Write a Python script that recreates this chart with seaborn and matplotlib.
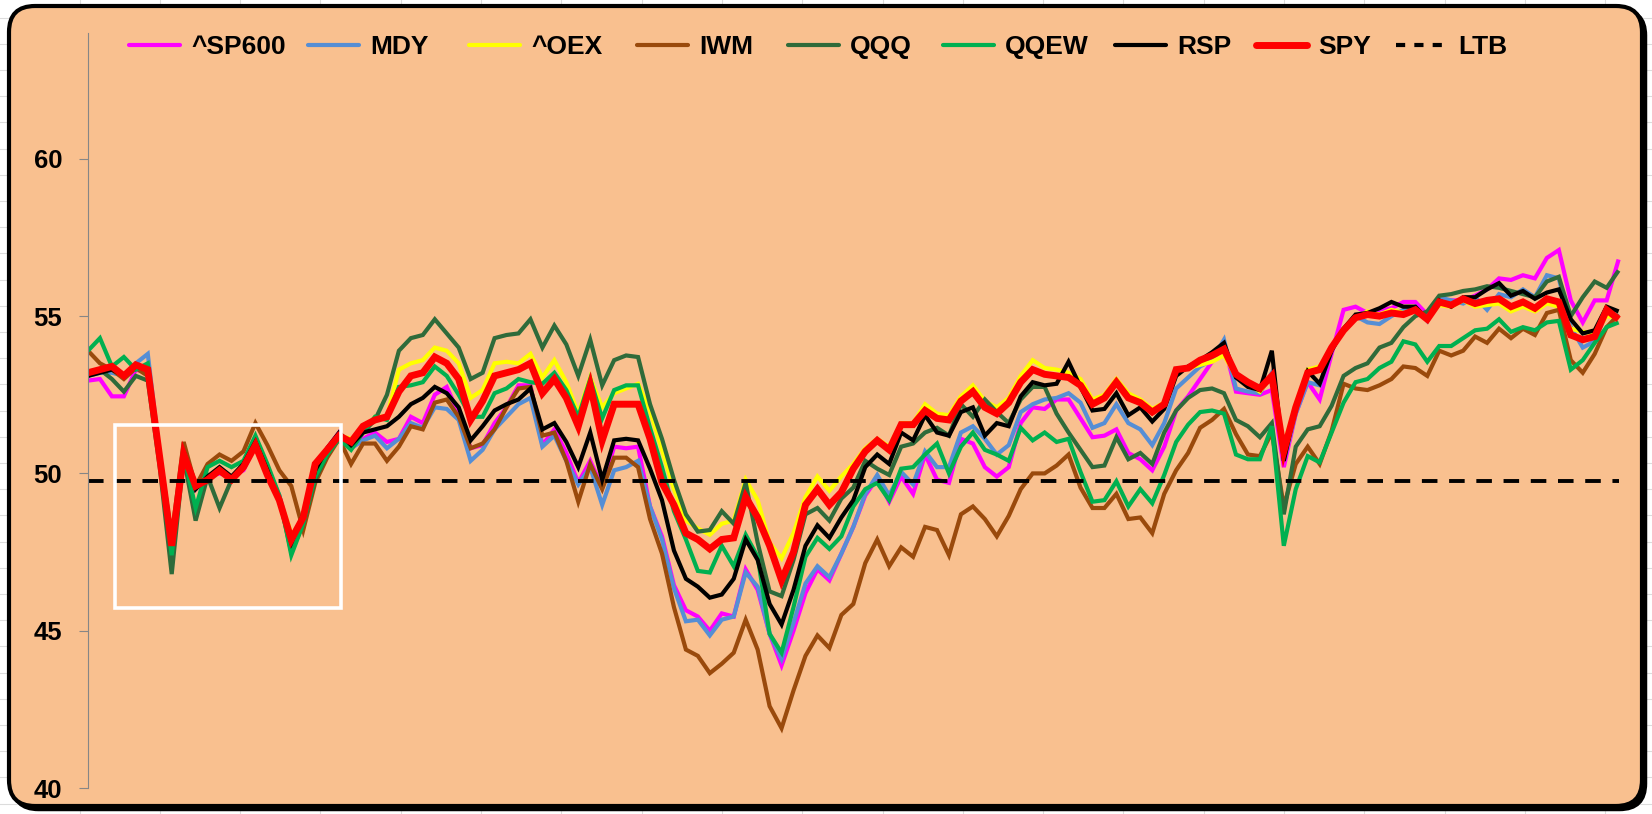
import numpy as np
import pandas as pd
import matplotlib
matplotlib.use("Agg")
import matplotlib.pyplot as plt
import seaborn as sns
from matplotlib.patches import FancyBboxPatch, Rectangle
from matplotlib.lines import Line2D
from matplotlib.font_manager import FontProperties

# ---------------- data ----------------
spy = [53.2, 53.3, 53.4, 53.1, 53.45, 53.3, 50.5, 47.7, 50.6, 49.6, 49.8, 50.1, 49.8, 50.2, 50.9, 49.95, 49.15, 47.9, 48.6, 50.3, 50.75, 51.2,
       51.0, 51.5, 51.7, 51.8, 52.6, 53.1, 53.2, 53.7, 53.5, 53.0, 51.7, 52.3, 53.1, 53.2, 53.3, 53.5, 52.55, 53.0, 52.4, 51.5, 52.8,
       51.05, 52.2, 52.2, 52.2, 51.1, 49.7, 49.0, 48.1, 47.9, 47.6, 47.9, 47.95, 49.25, 48.6, 47.7, 46.6, 47.5, 49.0, 49.5, 49.0, 49.4,
       50.15, 50.7, 51.05, 50.75, 51.55, 51.55, 52.0, 51.75, 51.7, 52.3, 52.6, 52.1, 51.9, 52.25, 52.9, 53.3, 53.15, 53.1, 53.05, 52.8, 52.2,
       52.4, 52.9, 52.4, 52.25, 51.95, 52.2, 53.3, 53.35, 53.6, 53.75, 53.95, 53.15, 52.9, 52.7, 53.1, 50.7, 52.1, 53.2, 53.3, 54.0, 54.55, 54.95,
       55.05, 55.0, 55.1, 55.05, 55.2, 54.9, 55.45, 55.35, 55.55, 55.4, 55.5, 55.55, 55.3, 55.45, 55.25, 55.55, 55.45, 54.4, 54.25, 54.35, 55.2, 54.9]

oex = [53.2, 53.3, 53.4, 53.1, 53.45, 53.3, 50.5, 47.8, 50.6, 49.6, 49.8, 50.1, 49.8, 50.2, 50.9, 50.0, 49.2, 48.1, 48.2, 50.0, 50.7, 51.2,
       51.1, 51.3, 51.8, 51.8, 53.3, 53.5, 53.6, 54.0, 53.9, 53.5, 52.4, 52.65, 53.5, 53.55, 53.5, 53.8, 53.05, 53.6, 52.9, 51.9, 53.05,
       52.1, 52.55, 52.7, 52.85, 52.0, 50.75, 49.5, 48.5, 48.25, 48.05, 48.4, 48.5, 49.8, 49.15, 47.8, 47.3, 48.1, 49.25, 49.9, 49.45, 49.9,
       50.3, 50.8, 51.1, 50.85, 51.6, 51.6, 52.2, 51.9, 51.85, 52.45, 52.8, 52.3, 52.1, 52.4, 53.1, 53.6, 53.35, 53.3, 53.2, 53.0, 52.35,
       52.5, 53.0, 52.55, 52.35, 52.05, 52.25, 53.3, 53.35, 53.45, 53.55, 53.75, 53.1, 52.85, 52.6, 53.1, 50.9, 52.2, 53.3, 53.4, 54.0, 54.5, 54.95,
       55.15, 55.05, 55.2, 55.1, 55.2, 54.95, 55.35, 55.3, 55.5, 55.3, 55.35, 55.4, 55.15, 55.3, 55.15, 55.4, 55.3, 54.6, 54.5, 54.45, 55.0, 54.95]

rsp = [53.1, 53.2, 53.3, 53.1, 53.4, 53.3, 50.4, 47.8, 50.7, 49.5, 49.9, 50.2, 49.9, 50.3, 51.0, 50.1, 49.1, 47.8, 48.7, 50.1, 50.8, 51.3,
       50.9, 51.3, 51.4, 51.5, 51.8, 52.2, 52.4, 52.75, 52.55, 52.1, 51.05, 51.5, 52.0, 52.2, 52.35, 52.7, 51.4, 51.6, 51.0, 50.2, 51.3,
       49.8, 51.05, 51.1, 51.05, 50.15, 49.15, 47.55, 46.65, 46.4, 46.05, 46.15, 46.65, 47.9, 47.25, 45.85, 45.2, 46.3, 47.7, 48.35, 47.95, 48.6,
       49.15, 50.2, 50.6, 50.3, 51.3, 51.05, 51.85, 51.3, 51.2, 51.95, 52.1, 51.2, 51.6, 51.5, 52.45, 52.9, 52.8, 52.85, 53.55, 52.75, 52.0,
       52.05, 52.55, 51.85, 52.1, 51.65, 52.05, 53.1, 53.4, 53.6, 53.85, 54.15, 53.05, 52.75, 52.65, 53.9, 50.4, 52.1, 53.25, 52.85, 53.9, 54.6, 55.05,
       55.1, 55.25, 55.45, 55.3, 55.3, 54.9, 55.5, 55.3, 55.6, 55.6, 55.85, 56.05, 55.65, 55.8, 55.55, 55.75, 55.85, 54.9, 54.45, 54.55, 55.3, 55.15]

sp600 = [52.95, 53.0, 52.45, 52.45, 53.3, 53.2, 50.4, 47.7, 50.5, 49.5, 49.9, 50.0, 49.9, 50.1, 50.9, 50.0, 49.2, 47.9, 48.6, 50.0, 50.8, 51.3,
         50.8, 51.1, 51.3, 51.0, 51.1, 51.8, 51.6, 52.5, 52.75, 51.9, 50.8, 50.9, 51.6, 52.1, 52.8, 52.8, 50.9, 51.4, 50.65, 49.7, 50.4,
         49.55, 50.85, 50.8, 50.85, 48.95, 48.0, 46.45, 45.65, 45.45, 45.0, 45.55, 45.45, 46.95, 46.3, 44.9, 43.9, 45.0, 46.2, 46.95, 46.6, 47.45,
         48.3, 49.3, 49.85, 49.1, 49.9, 49.35, 50.6, 49.8, 49.7, 51.1, 50.95, 50.2, 49.9, 50.2, 51.6, 52.1, 52.05, 52.35, 52.35, 51.75, 51.15,
         51.2, 51.4, 50.65, 50.45, 50.1, 50.85, 52.0, 52.45, 53.0, 53.55, 54.1, 52.6, 52.55, 52.5, 52.65, 50.2, 51.9, 52.9, 52.35, 53.8, 55.2, 55.3,
         55.1, 55.2, 55.25, 55.45, 55.45, 55.05, 55.5, 55.5, 55.5, 55.65, 55.85, 56.2, 56.15, 56.3, 56.2, 56.85, 57.1, 55.5, 54.8, 55.5, 55.5, 56.8]

mdy = [53.1, 53.2, 53.2, 53.1, 53.5, 53.8, 50.6, 47.7, 50.6, 49.6, 49.9, 50.1, 49.9, 50.2, 51.0, 50.2, 49.3, 47.9, 48.6, 50.0, 50.7, 51.2,
       50.8, 51.05, 51.2, 50.8, 51.1, 51.6, 51.45, 52.1, 52.05, 51.7, 50.4, 50.75, 51.4, 51.8, 52.2, 52.4, 50.85, 51.2, 50.4, 49.65, 50.2,
       49.0, 50.1, 50.2, 50.4, 48.95, 47.9, 46.35, 45.3, 45.35, 44.85, 45.35, 45.45, 46.85, 46.4, 44.9, 44.1, 45.25, 46.5, 47.05, 46.7, 47.45,
       48.3, 49.35, 49.95, 49.3, 50.05, 49.65, 50.7, 50.2, 50.2, 51.3, 51.5, 51.1, 50.6, 50.9, 51.95, 52.2, 52.35, 52.4, 52.55, 52.25, 51.45,
       51.6, 52.2, 51.6, 51.4, 50.9, 51.6, 52.7, 53.05, 53.4, 53.6, 54.25, 52.7, 52.6, 52.55, 53.2, 50.4, 51.9, 52.9, 52.8, 53.9, 54.6, 55.0,
       54.8, 54.75, 55.0, 55.2, 55.3, 54.85, 55.6, 55.5, 55.4, 55.6, 55.2, 55.7, 55.6, 55.85, 55.6, 56.3, 56.2, 54.65, 54.0, 54.2, 55.15, 55.0]

iwm = [53.9, 53.5, 53.3, 53.0, 53.35, 53.1, 50.6, 48.0, 51.0, 49.6, 50.3, 50.6, 50.4, 50.7, 51.6, 50.9, 50.1, 49.6, 48.2, 49.7, 50.5, 51.1,
       50.3, 50.95, 50.95, 50.4, 50.85, 51.5, 51.4, 52.25, 52.35, 51.8, 50.8, 50.95, 51.4, 52.1, 52.7, 52.75, 51.2, 51.3, 50.4, 49.1, 50.3,
       49.5, 50.5, 50.5, 50.2, 48.55, 47.45, 45.75, 44.4, 44.2, 43.65, 43.95, 44.3, 45.35, 44.4, 42.6, 41.9, 43.1, 44.2, 44.85, 44.45, 45.5,
       45.85, 47.15, 47.9, 47.05, 47.65, 47.35, 48.3, 48.2, 47.4, 48.7, 48.95, 48.55, 48.0, 48.65, 49.5, 50.0, 50.0, 50.25, 50.6, 49.55, 48.9,
       48.9, 49.35, 48.55, 48.6, 48.1, 49.35, 50.1, 50.65, 51.45, 51.7, 52.05, 51.25, 50.6, 50.55, 51.3, 48.95, 50.3, 50.85, 50.3, 51.35, 52.85, 52.7,
       52.65, 52.8, 53.0, 53.4, 53.35, 53.1, 53.9, 53.75, 53.9, 54.35, 54.15, 54.6, 54.3, 54.6, 54.4, 55.1, 55.2, 53.6, 53.2, 53.8, 54.65, 55.05]

qqq = [53.1, 53.3, 53.0, 52.6, 53.1, 52.95, 50.2, 46.8, 50.5, 48.5, 49.9, 48.9, 49.8, 50.3, 50.9, 50.0, 49.2, 47.5, 48.4, 49.8, 50.6, 51.1,
       50.8, 51.3, 51.7, 52.5, 53.9, 54.3, 54.4, 54.9, 54.45, 54.0, 53.0, 53.2, 54.3, 54.4, 54.45, 54.9, 54.0, 54.7, 54.1, 53.1, 54.25,
       52.8, 53.6, 53.75, 53.7, 52.2, 51.1, 49.8, 48.7, 48.15, 48.2, 48.8, 48.4, 49.7, 47.8, 46.25, 46.1, 47.25, 48.7, 48.9, 48.5, 49.2,
       49.55, 50.4, 50.15, 49.95, 50.85, 50.95, 51.3, 51.45, 51.2, 52.2, 51.8, 52.35, 51.95, 51.6, 52.35, 52.75, 52.75, 51.9, 51.3, 50.75, 50.2,
       50.25, 51.15, 50.45, 50.65, 50.3, 51.3, 52.0, 52.4, 52.65, 52.7, 52.55, 51.7, 51.5, 51.15, 51.6, 48.7, 50.85, 51.4, 51.5, 52.15, 53.1, 53.35,
       53.5, 54.0, 54.15, 54.65, 55.0, 55.15, 55.65, 55.7, 55.8, 55.85, 55.95, 55.9, 55.8, 55.7, 55.6, 56.1, 56.25, 55.0, 55.6, 56.1, 55.9, 56.45]

qqew = [53.9, 54.3, 53.4, 53.7, 53.3, 53.5, 50.4, 47.4, 50.6, 48.9, 50.2, 50.4, 50.2, 50.4, 51.2, 50.3, 49.3, 47.4, 48.4, 49.9, 50.6, 51.1,
        50.75, 51.3, 51.8, 51.7, 52.75, 52.8, 52.9, 53.4, 53.1, 52.5, 51.8, 51.8, 52.55, 52.7, 53.0, 52.9, 52.85, 53.2, 52.65, 51.8, 53.0,
        51.75, 52.65, 52.8, 52.8, 51.45, 50.2, 48.8, 47.9, 46.9, 46.85, 47.7, 47.05, 48.05, 47.35, 44.9, 44.3, 45.75, 47.35, 47.95, 47.6, 48.0,
        48.95, 49.5, 49.7, 49.15, 50.15, 50.2, 50.6, 50.95, 50.0, 50.85, 51.3, 50.75, 50.6, 50.4, 51.45, 51.05, 51.3, 51.0, 51.1, 50.05, 49.1,
        49.15, 49.75, 48.95, 49.5, 49.05, 49.95, 51.0, 51.55, 51.95, 52.0, 51.9, 50.6, 50.45, 50.45, 51.5, 47.7, 49.5, 50.55, 50.35, 51.3, 52.25, 52.9,
        53.0, 53.35, 53.55, 54.2, 54.1, 53.55, 54.05, 54.05, 54.3, 54.55, 54.6, 54.9, 54.5, 54.65, 54.55, 54.8, 54.85, 53.3, 53.6, 54.15, 54.65, 54.8]

ltb_level = 49.75

series_names = ["^SP600", "MDY", "^OEX", "IWM", "QQQ", "QQEW", "RSP", "SPY"]
y_ticks = [40, 45, 50, 55, 60]
y_tick_labels = ["40", "45", "50", "55", "60"]

# ---------------- styling ----------------
series_values = [sp600, mdy, oex, iwm, qqq, qqew, rsp, spy]
colors = ["#FF00FF", "#558ED5", "#FFFF00", "#9A4A0C", "#2F6B3A", "#00B050", "#000000", "#FF0000"]
widths = [3.0, 3.0, 3.0, 3.0, 3.0, 3.0, 3.0, 5.0]
chart_fill = "#F9C08F"
legend_x_px = [129, 308, 469, 637, 788, 943, 1115, 1256, 1396]

plt.rcParams['font.family'] = ['Liberation Sans Narrow', 'Liberation Sans', 'DejaVu Sans']
plt.rcParams['font.weight'] = 'bold'

W, H = 1652, 814
fig = plt.figure(figsize=(W / 100, H / 100), dpi=100)
fig.patch.set_facecolor('white')

# faint spreadsheet grid behind the chart object
for gx in np.arange(79.5, W, 80.3):
    fig.add_artist(Line2D([gx / W, gx / W], [0, 1], color='#DCDCDC', lw=0.8,
                          transform=fig.transFigure, zorder=0.1))
for gy in np.arange(17.5, H, 26.2):
    fig.add_artist(Line2D([0, 1], [1 - gy / H, 1 - gy / H], color='#DCDCDC', lw=0.8,
                          transform=fig.transFigure, zorder=0.1))

# chart area (rounded, with shadow)
box_x, box_y, box_w, box_h = 0.09, 0.08, 16.33, 8.00
shadow = FancyBboxPatch((box_x + 0.035, box_y - 0.035), box_w, box_h,
                        boxstyle="round,pad=0,rounding_size=0.26",
                        transform=fig.dpi_scale_trans, fc='black', ec='black', lw=2.5, zorder=0.5)
chart = FancyBboxPatch((box_x, box_y), box_w, box_h,
                       boxstyle="round,pad=0,rounding_size=0.26",
                       transform=fig.dpi_scale_trans, fc=chart_fill, ec='black', lw=3.0, zorder=1)
fig.add_artist(shadow)
fig.add_artist(chart)

ax = fig.add_axes([88 / W, 26 / H, 1536 / W, 755 / H])
ax.set_zorder(2)
ax.set_facecolor('none')

n = len(spy)
idx = np.arange(n)
for name, vals, c, w in zip(series_names, series_values, colors, widths):
    df = pd.DataFrame({"i": idx, "v": vals})
    sns.lineplot(data=df, x="i", y="v", ax=ax, color=c, linewidth=w, legend=False,
                 solid_joinstyle='miter', solid_capstyle='butt')

ltb_df = pd.DataFrame({"i": idx, "v": np.full(n, ltb_level)})
sns.lineplot(data=ltb_df, x="i", y="v", ax=ax, color='black', linewidth=2.8, legend=False)
ax.lines[-1].set_dashes((4.0, 3.0))

# white highlight rectangle
ax.add_patch(Rectangle((2.26, 45.72), 18.9, 5.82, fill=False, ec='white', lw=2.6, zorder=5))

ax.set_xlim(0, 128.45)
ax.set_ylim(40, 64)
ax.set_xticks([])
ax.set_yticks(y_ticks)
ax.set_yticklabels(y_tick_labels)
ax.set_xlabel("")
ax.set_ylabel("")
ax.tick_params(axis='y', length=6.5, width=0.8, color='#868686', pad=12,
               labelsize=18.5, labelcolor='black')
for lab in ax.get_yticklabels():
    lab.set_fontweight('bold')
for s in ['top', 'right', 'bottom']:
    ax.spines[s].set_visible(False)
ax.spines['left'].set_color('#868686')
ax.spines['left'].set_linewidth(0.8)

# legend: one entry per slot, placed like the reference
handles = [Line2D([], [], color=c, lw=w, solid_capstyle='round') for c, w in zip(colors, widths)]
ltb_handle = Line2D([], [], color='black', lw=3.0)
ltb_handle.set_dashes((2.2, 2.2))
handles.append(ltb_handle)
labels = series_names + ["LTB"]
leg_font = FontProperties(family=['Liberation Sans Narrow', 'Liberation Sans', 'DejaVu Sans'],
                          weight='bold', size=19)
for h, lab, xp in zip(handles, labels, legend_x_px):
    fig.legend([h], [lab], loc='center left', bbox_to_anchor=(xp / W, 1 - 47 / H),
               frameon=False, borderpad=0, borderaxespad=0,
               handlelength=1.95, handletextpad=0.4, prop=leg_font)

fig.savefig("out.png", dpi=100, facecolor=fig.get_facecolor())
